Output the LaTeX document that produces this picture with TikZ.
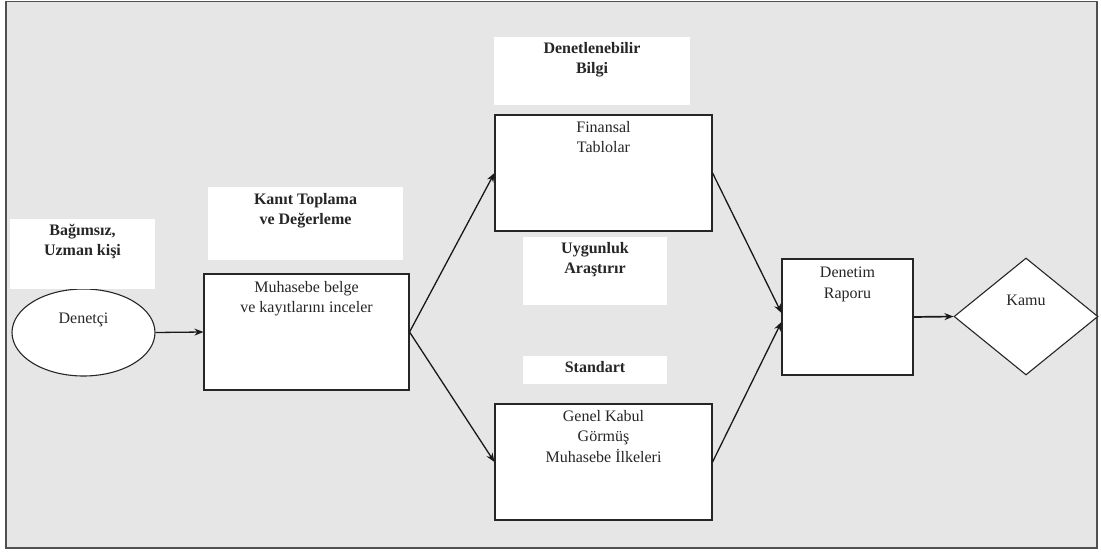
\documentclass[tikz,border=0pt]{standalone}
\usepackage{fontspec}
\setmainfont{Liberation Serif}
\usetikzlibrary{shapes.geometric,arrows.meta}
\definecolor{bggray}{RGB}{230,230,230}
\definecolor{framegray}{RGB}{80,80,80}
\begin{document}
\begin{tikzpicture}[x=1pt,y=-1pt,
  bgframe/.style={fill=bggray, draw=framegray, line width=1.8pt},
  lbl/.style={fill=white, draw=none, inner sep=0pt},
  box/.style={draw=black!85, line width=1.1pt, fill=white, inner sep=0pt},
  txt/.style={anchor=north, inner sep=0pt, align=center, font=\fontsize{16}{20.5}\selectfont, text=black!85},
  btxt/.style={txt, font=\fontsize{16}{20.5}\selectfont\bfseries},
  arr/.style={draw=black!90, line width=1.3pt, -{Stealth[length=9pt,width=7pt]}}]
\useasboundingbox (0,0) rectangle (1101,553);
\fill[white] (0,0) rectangle (1101,553);
\draw[bgframe] (6,1.5) rectangle (1097,548);

% shapes
\node[box, ellipse, minimum width=143pt, minimum height=87pt] (den) at (83.5,332.5) {};
\node[box, rectangle, minimum width=205pt, minimum height=116pt] (muh) at (306.5,332) {};
\node[box, rectangle, minimum width=217pt, minimum height=116pt] (fin) at (603.5,173) {};
\node[box, rectangle, minimum width=217pt, minimum height=116pt] (gkg) at (603.5,462) {};
\node[box, rectangle, minimum width=131pt, minimum height=116pt] (rap) at (847.5,317) {};
\node[box, diamond, minimum width=144pt, minimum height=117pt] (kamu) at (1026,316.5) {};

% white label boxes
\node[lbl, minimum width=145pt, minimum height=70pt] (lbA) at (82.5,254) {};
\node[lbl, minimum width=195pt, minimum height=73pt] (lbB) at (305.5,223.5) {};
\node[lbl, minimum width=196pt, minimum height=68pt] (lbC) at (592,71) {};
\node[lbl, minimum width=144pt, minimum height=68pt] (lbD) at (595,271) {};
\node[lbl, minimum width=144pt, minimum height=28pt] (lbE) at (595,370) {};

% label texts
\node[btxt] (tA) at (82.5,224) {Bağımsız,\\Uzman kişi};
\node[btxt] (tB) at (305.5,193) {Kanıt Toplama\\ve Değerleme};
\node[btxt] (tC) at (592,42) {Denetlenebilir\\Bilgi};
\node[btxt] (tD) at (595,242) {Uygunluk\\Araştırır};
\node[btxt] (tE) at (595,361) {Standart};

% box texts
\node[txt] (t1) at (83.5,313) {Denetçi};
\node[txt] (t2) at (306.5,281) {Muhasebe belge\\ve kayıtlarını inceler};
\node[txt] (t3) at (603.5,121) {Finansal\\Tablolar};
\node[txt] (t4) at (603.5,410) {Genel Kabul\\Görmüş\\Muhasebe İlkeleri};
\node[txt] (t5) at (847.5,267) {Denetim\\Raporu};
\node[txt] (t6) at (1026,295) {Kamu};

% arrows
\draw[arr] (den.east) -- (muh.west);
\draw[arr] (muh.east) -- (fin.west);
\draw[arr] (muh.east) -- (gkg.west);
\draw[arr] (fin.east) -- ([yshift=4pt]rap.west);
\draw[arr] (gkg.east) -- ([yshift=-5pt]rap.west);
\draw[arr, line width=1.7pt] (rap.east) -- (kamu.west);
\end{tikzpicture}
\end{document}
